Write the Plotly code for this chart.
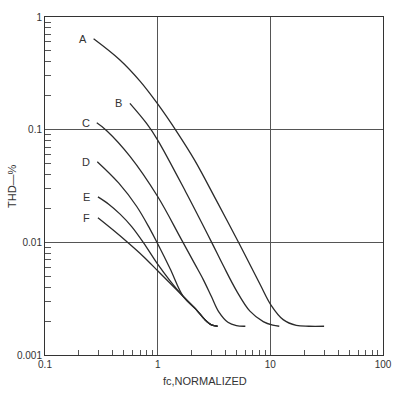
import math
import plotly.graph_objects as go

# ---- data (log-log THD curves) ----
labels = ["A", "B", "C", "D", "E", "F"]

A_x = [0.27, 0.46, 0.70, 1.0, 1.49, 2.14, 3.3, 5.3, 8.1, 10.1, 13.0, 17.0, 22.0, 30.0]
A_y = [0.64, 0.417, 0.268, 0.169, 0.0946, 0.0531, 0.0238, 0.0097, 0.00424, 0.00279, 0.00206, 0.00183, 0.0018, 0.0018]

B_x = [0.567, 0.80, 1.0, 1.81, 3.0, 3.82, 5.0, 6.59, 8.65, 10.5, 12.0]
B_y = [0.171, 0.113, 0.0809, 0.027, 0.0101, 0.00622, 0.00373, 0.00245, 0.00198, 0.00184, 0.0018]

C_x = [0.288, 0.353, 0.568, 1.0, 1.6, 2.14, 2.54, 3.0, 3.5, 4.2, 5.0, 6.0]
C_y = [0.115, 0.098, 0.058, 0.0255, 0.0109, 0.0064, 0.00467, 0.0033, 0.0024, 0.00195, 0.00182, 0.0018]

D_x = [0.291, 0.45, 0.652, 0.855, 1.0, 1.29, 1.69, 2.2, 2.6, 3.0, 3.4]
D_y = [0.052, 0.0337, 0.0208, 0.0131, 0.0097, 0.00583, 0.0033, 0.00253, 0.00208, 0.00185, 0.0018]

E_x = [0.295, 0.37, 0.464, 0.588, 0.75, 1.0, 1.29, 1.69, 2.2, 2.6, 3.0, 3.4]
E_y = [0.0253, 0.0217, 0.0178, 0.0138, 0.0099, 0.0064, 0.00455, 0.0033, 0.00253, 0.00208, 0.00185, 0.0018]

F_x = [0.295, 0.40, 0.54, 0.75, 1.0, 1.29, 1.69, 2.2, 2.6, 3.0, 3.4]
F_y = [0.0165, 0.0129, 0.0100, 0.00745, 0.00559, 0.00433, 0.0033, 0.00253, 0.00208, 0.00185, 0.0018]

x_ticks = [0.1, 1, 10, 100]
x_ticktext = ["0.1", "1", "10", "100"]
y_ticks = [0.001, 0.01, 0.1, 1]
y_ticktext = ["0.001", "0.01", "0.1", "1"]

x_title = "fc,NORMALIZED"
y_title = "THD—%"

curves = list(zip(labels, [A_x, B_x, C_x, D_x, E_x, F_x], [A_y, B_y, C_y, D_y, E_y, F_y]))

INK = "#2b2b2b"
FONT = "Liberation Sans, Arial, sans-serif"

fig = go.Figure()
annotations = []
for name, xs, ys in curves:
    fig.add_trace(go.Scatter(
        x=xs, y=ys, mode="lines",
        line=dict(color=INK, width=1.3, shape="spline", smoothing=1.0),
        showlegend=False, hoverinfo="skip",
    ))
    annotations.append(dict(
        text=name, x=math.log10(xs[0]), y=math.log10(ys[0]),
        xref="x", yref="y", showarrow=False, xshift=-11,
        font=dict(family=FONT, size=11, color="#333"),
    ))

annotations.append(dict(
    text=x_title, xref="paper", yref="paper", x=0.473, y=0, yshift=-26,
    xanchor="center", yanchor="middle", showarrow=False,
    font=dict(family=FONT, size=11, color="#333"),
))
annotations.append(dict(
    text=y_title, xref="paper", yref="paper", x=0, y=0.5, xshift=-33,
    xanchor="center", yanchor="middle", textangle=-90, showarrow=False,
    font=dict(family=FONT, size=11, color="#333"),
))

minor_x = [m * 10 ** k for k in (-1, 0, 1) for m in range(2, 10)]
minor_y = [m * 10 ** k for k in (-3, -2, -1) for m in range(2, 10)]

axis_common = dict(
    type="log", showgrid=True, gridcolor="#555", gridwidth=1,
    showline=True, linecolor="#333", linewidth=1, mirror=True,
    ticks="", zeroline=False, automargin=False,
    tickfont=dict(family=FONT, size=10, color="#333"),
    tickmode="array",
)

fig.update_layout(
    width=396, height=398, autosize=False,
    margin=dict(l=45, r=13, t=17, b=43),
    paper_bgcolor="white", plot_bgcolor="white",
    xaxis=dict(range=[-1, 2], tickvals=x_ticks, ticktext=x_ticktext,
               minor=dict(tickmode="array", tickvals=minor_x, ticks="inside",
                          ticklen=5, tickcolor="#555", tickwidth=1, showgrid=False),
               **axis_common),
    yaxis=dict(range=[-3, 0], tickvals=y_ticks, ticktext=y_ticktext,
               minor=dict(tickmode="array", tickvals=minor_y, ticks="inside",
                          ticklen=6, tickcolor="#555", tickwidth=1, showgrid=False),
               **axis_common),
    annotations=annotations,
)

fig.write_html(
    "out.html",
    config={"displayModeBar": False},
    post_script="document.body.style.margin='0';document.body.style.overflow='hidden';",
)
